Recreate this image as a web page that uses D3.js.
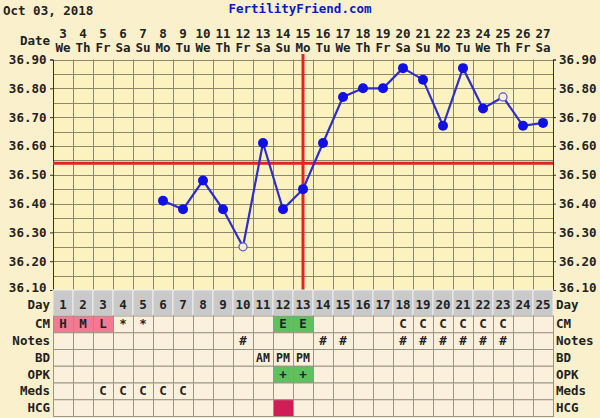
<!DOCTYPE html>
<html><head><meta charset="utf-8">
<script src="https://cdn.jsdelivr.net/npm/d3@7/dist/d3.min.js"></script>
<style>body{margin:0;background:#FAF0CC}svg{display:block}text{font-family:"DejaVu Sans Mono",monospace;font-weight:bold;}</style>
</head><body><svg id="c" width="600" height="418"></svg>
<script>
const days = d3.range(1, 26);
const dates = [3,4,5,6,7,8,9,10,11,12,13,14,15,16,17,18,19,20,21,22,23,24,25,26,27];
const weekdays = ["We","Th","Fr","Sa","Su","Mo","Tu","We","Th","Fr","Sa","Su","Mo","Tu","We","Th","Fr","Sa","Su","Mo","Tu","We","Th","Fr","Sa"];
const temps = [null,null,null,null,null,36.41,36.38,36.48,36.38,36.25,36.61,36.38,36.45,36.61,36.77,36.80,36.80,36.87,36.83,36.67,36.87,36.73,36.77,36.67,36.68];
const openPoints = [10, 23];
const yTicks = [36.90,36.80,36.70,36.60,36.50,36.40,36.30,36.20,36.10];
const coverline = 36.54;
const ovulationDay = 13;
const cm = ["H","M","L","*","*","","","","","","","E","E","","","","","C","C","C","C","C","C","",""];
const cmFill = ["pink","pink","pink","","","","","","","","","green","green","","","","","","","","","","","",""];
const notes = ["","","","","","","","","","#","","","","#","#","","","#","#","#","#","#","#","",""];
const bd = ["","","","","","","","","","","AM","PM","PM","","","","","","","","","","","",""];
const opk = ["","","","","","","","","","","","+","+","","","","","","","","","","","",""];
const opkFill = ["","","","","","","","","","","","green","green","","","","","","","","","","","",""];
const meds = ["","","C","C","C","C","C","","","","","","","","","","","","","","","","","",""];
const hcgFill = ["","","","","","","","","","","","crimson","","","","","","","","","","","","",""];
const rowLabels = ["CM","Notes","BD","OPK","Meds","HCG"];

const svg = d3.select("#c");
const L = 53, R = 553, T = 59.5, B = 290;
const x = d3.scaleBand().domain(days).range([L, R]);
const y = d3.scaleLinear().domain([36.10, 36.90]).range([B, T]);
const fills = {pink:"#F27A92", green:"#5EC05E", crimson:"#D21C55"};

svg.append("rect").attr("width",600).attr("height",418).attr("fill","#FAF0CC");
// plot area
svg.append("rect").attr("x",L).attr("y",T).attr("width",R-L).attr("height",B-T).attr("fill","#FCF2C0");
const grid = svg.append("g").attr("stroke","#8E876A").attr("stroke-width",1);
d3.range(36.10, 36.9001, 0.05).forEach(v => {
  grid.append("line").attr("x1",L).attr("x2",R).attr("y1",Math.round(y(v))+0.5).attr("y2",Math.round(y(v))+0.5);
});
days.forEach(d => {
  grid.append("line").attr("x1",x(d)+0.5).attr("x2",x(d)+0.5).attr("y1",T).attr("y2",B);
});
grid.append("line").attr("x1",R+0.5).attr("x2",R+0.5).attr("y1",T).attr("y2",B);
// axes
svg.append("g").attr("transform",`translate(${L},0)`).call(d3.axisLeft(y).tickValues(yTicks).tickFormat(d3.format(".2f")).tickSize(3))
  .call(g=>{g.select(".domain").attr("stroke","#333");g.selectAll("line").attr("stroke","#333");g.selectAll("text").attr("font-size",12.5).attr("fill","#222").attr("font-family","DejaVu Sans Mono").attr("font-weight","bold").attr("dx",-0.5);});
svg.append("g").attr("transform",`translate(${R},0)`).call(d3.axisRight(y).tickValues(yTicks).tickFormat(d3.format(".2f")).tickSize(3))
  .call(g=>{g.select(".domain").attr("stroke","#333");g.selectAll("line").attr("stroke","#333");g.selectAll("text").attr("font-size",12.5).attr("fill","#222").attr("font-family","DejaVu Sans Mono").attr("font-weight","bold");});
// nudge the lowest tick labels up slightly so they clear the Day row labels
svg.selectAll(".tick text").filter(d=>d===36.10).attr("dy","0.15em");

// header
svg.append("text").attr("x",3).attr("y",15).attr("font-size",12.5).attr("fill","#222").text("Oct 03, 2018");
svg.append("text").attr("x",300).attr("y",13).attr("text-anchor","middle").attr("font-size",12.5).attr("fill","#0A1AC8").text("FertilityFriend.com");
svg.append("text").attr("x",50).attr("y",45).attr("text-anchor","end").attr("font-size",12.5).attr("fill","#222").text("Date");
svg.selectAll(".dn").data(days).join("text").attr("x",d=>x(d)+x.bandwidth()/2).attr("y",38).attr("text-anchor","middle").attr("font-size",12.5).attr("fill","#222").text((d,i)=>dates[i]);
svg.selectAll(".wd").data(days).join("text").attr("x",d=>x(d)+x.bandwidth()/2).attr("y",52).attr("text-anchor","middle").attr("font-size",12.5).attr("fill","#222").text((d,i)=>weekdays[i]);

// coverline and ovulation line
svg.append("line").attr("x1",L).attr("x2",R).attr("y1",y(coverline)).attr("y2",y(coverline)).attr("stroke","#E22424").attr("stroke-width",3);
svg.append("line").attr("x1",x(ovulationDay)+x.bandwidth()/2).attr("x2",x(ovulationDay)+x.bandwidth()/2).attr("y1",54).attr("y2",B).attr("stroke","#E22424").attr("stroke-width",3);

// temps
const pts = days.map((d,i)=>({d, v:temps[i], open: openPoints.includes(d)})).filter(p=>p.v!==null);
const line = d3.line().x(p=>x(p.d)+x.bandwidth()/2).y(p=>y(p.v));
svg.append("path").datum(pts).attr("d",line).attr("fill","none").attr("stroke","#2E2EC8").attr("stroke-width",2.2);
svg.selectAll(".pt").data(pts).join("circle").attr("cx",p=>x(p.d)+x.bandwidth()/2).attr("cy",p=>y(p.v))
  .attr("r",p=>p.open?4:5).attr("fill",p=>p.open?"#F6EFE0":"#0F0FE6").attr("stroke",p=>p.open?"#5555D0":"none").attr("stroke-width",1.2);

// table
const dayTop = 290, dayH = 25.5, rowH = 16.75;
const tbl = svg.append("g");
tbl.selectAll(".dc").data(days).join("rect").attr("x",d=>x(d)).attr("y",dayTop).attr("width",x.bandwidth()).attr("height",dayH).attr("fill","#C9C9C9").attr("stroke","#EDEDED").attr("stroke-width",1);
tbl.selectAll(".dt").data(days).join("text").attr("x",d=>x(d)+x.bandwidth()/2).attr("y",dayTop+19).attr("text-anchor","middle").attr("font-size",12.5).attr("fill","#222").text(d=>d);
svg.append("text").attr("x",50).attr("y",dayTop+19).attr("text-anchor","end").attr("font-size",12.5).attr("fill","#222").text("Day");
svg.append("text").attr("x",556).attr("y",dayTop+19).attr("font-size",12.5).attr("fill","#222").text("Day");

const rows = [
  {vals:cm, fill:cmFill},
  {vals:notes, fill:null},
  {vals:bd, fill:null},
  {vals:opk, fill:opkFill},
  {vals:meds, fill:null},
  {vals:days.map(()=>""), fill:hcgFill}
];
rows.forEach((r,ri)=>{
  const ry = dayTop + dayH + ri*rowH;
  const g = tbl.append("g");
  g.selectAll("rect").data(days).join("rect").attr("x",d=>x(d)+0.5).attr("y",ry+0.5).attr("width",x.bandwidth()).attr("height",rowH)
    .attr("fill",(d,i)=> r.fill && r.fill[i] ? fills[r.fill[i]] : "#FBF0DC").attr("stroke","#9B9585").attr("stroke-width",1);
  g.selectAll("text").data(days).join("text").attr("x",d=>x(d)+x.bandwidth()/2).attr("y",ry+rowH/2+4.5).attr("text-anchor","middle").attr("font-size",r.vals===bd?11.5:12.5).attr("fill","#222").text((d,i)=>r.vals[i]);
  svg.append("text").attr("x",50).attr("y",ry+rowH/2+4.5).attr("text-anchor","end").attr("font-size",12.5).attr("fill","#222").text(rowLabels[ri]);
  svg.append("text").attr("x",556).attr("y",ry+rowH/2+4.5).attr("font-size",12.5).attr("fill","#222").text(rowLabels[ri]);
});
</script></body></html>
